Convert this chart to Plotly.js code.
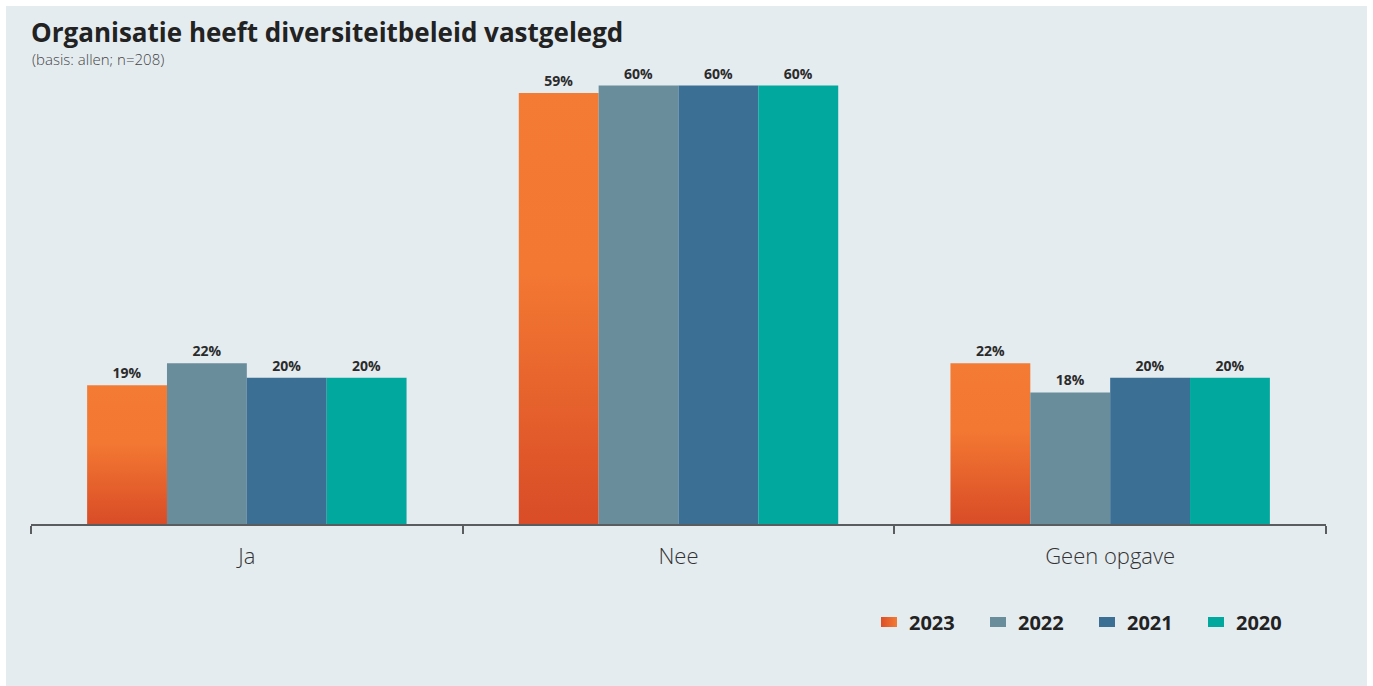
<!DOCTYPE html>
<html>
<head>
<meta charset="utf-8">
<script src="https://cdn.plot.ly/plotly-3.0.1.min.js"></script>
<style>
  html, body { margin: 0; padding: 0; background: #ffffff; }
  #chart { position: absolute; left: 6px; top: 6px; width: 1361px; height: 680px; }
</style>
</head>
<body>
<div id="chart"></div>
<script>
// Answers per category, one series per survey year (percent)
const categories = ['Ja', 'Nee', 'Geen opgave'];
const years = ['2023', '2022', '2021', '2020'];
const values2023 = [19, 59, 22];
const values2022 = [22, 60, 18];
const values2021 = [20, 60, 20];
const values2020 = [20, 60, 20];
const seriesValues = [values2023, values2022, values2021, values2020];
const seriesColors = ['#f37a33', '#6a8d9c', '#3b7094', '#00a89d'];

const FONT = '"Open Sans", Lato, sans-serif';
const labelFont = { family: FONT, size: 14, color: '#2b2b2b', weight: 700 };

const traces = years.map((yr, i) => ({
  type: 'bar',
  name: yr,
  x: categories,
  y: seriesValues[i],
  marker: { color: seriesColors[i], line: { width: 0 } },
  text: seriesValues[i].map(v => v + '%'),
  textposition: 'outside',
  textfont: labelFont,
  cliponaxis: false,
  hoverinfo: 'x+y+name'
}));

const layout = {
  width: 1361,
  height: 680,
  paper_bgcolor: '#e4ecf0',
  plot_bgcolor: '#e4ecf0',
  margin: { l: 25, r: 41, t: 54, b: 162 },
  barmode: 'group',
  bargap: 0.26,
  bargroupgap: 0,
  showlegend: true,
  title: {
    text: '<b>Organisatie heeft diversiteitbeleid vastgelegd</b>',
    font: { family: FONT, size: 26, color: '#222222' },
    x: 25 / 1361, xanchor: 'left', xref: 'container',
    y: 1 - 27 / 680, yanchor: 'middle', yref: 'container'
  },
  annotations: [{
    text: '(basis: allen; n=208)',
    xref: 'paper', yref: 'paper',
    x: 0, xanchor: 'left', xshift: -1,
    y: 1, yanchor: 'middle', yshift: 1,
    showarrow: false,
    font: { family: FONT, size: 15, color: '#444444', weight: 300 }
  }],
  xaxis: {
    type: 'category',
    showline: true, linecolor: '#5a5d60', linewidth: 2,
    ticks: 'outside', tickson: 'boundaries', ticklen: 8, tickwidth: 2, tickcolor: '#5a5d60',
    ticklabelstandoff: 12,
    tickfont: { family: FONT, size: 22, color: '#333333', weight: 300 },
    showgrid: false, zeroline: false, fixedrange: true
  },
  yaxis: {
    range: [0, 63.5],
    visible: false, showgrid: false, zeroline: false, fixedrange: true
  },
  legend: {
    orientation: 'h',
    x: 863 / 1361, xanchor: 'left', xref: 'container',
    y: 1 - 616 / 680, yanchor: 'middle', yref: 'container',
    entrywidth: 64, entrywidthmode: 'pixels',
    itemwidth: 30,
    traceorder: 'normal',
    bgcolor: 'rgba(0,0,0,0)',
    font: { family: FONT, size: 20, color: '#222222', weight: 700 }
  }
};

// Shaded fill for the 2023 bars (orange fading to red at the base)
function applyGradient(gd) {
  const svg = gd.querySelector('.main-svg');
  if (!svg) return;
  let defs = svg.querySelector('defs');
  if (!defs) { defs = document.createElementNS('http://www.w3.org/2000/svg', 'defs'); svg.prepend(defs); }
  if (!defs.querySelector('#bar2023grad')) {
    defs.insertAdjacentHTML('beforeend',
      '<linearGradient id="bar2023grad" x1="0" y1="0" x2="0" y2="1">' +
      '<stop offset="0" stop-color="#f47b33"/><stop offset="0.42" stop-color="#f37832"/>' +
      '<stop offset="1" stop-color="#d94c27"/></linearGradient>' +
      '<linearGradient id="leg2023grad" x1="0" y1="0" x2="1" y2="0">' +
      '<stop offset="0" stop-color="#dc4f28"/><stop offset="1" stop-color="#f47b33"/></linearGradient>');
  }
  const barTraces = gd.querySelectorAll('.barlayer .trace.bars');
  if (barTraces.length) {
    barTraces[0].querySelectorAll('path').forEach(p => { p.style.fill = 'url(#bar2023grad)'; });
  }
  // Legend swatches as small wide rectangles
  const legTraces = gd.querySelectorAll('.legend .traces');
  legTraces.forEach((t, i) => {
    t.querySelectorAll('.legendpoints path').forEach(p => {
      p.setAttribute('d', 'M8,5H-8V-5H8Z');
      if (i === 0) p.style.fill = 'url(#leg2023grad)';
    });
  });
}

const gd = document.getElementById('chart');
Plotly.newPlot(gd, traces, layout, { displayModeBar: false, responsive: false }).then(() => {
  applyGradient(gd);
  gd.on('plotly_afterplot', () => applyGradient(gd));
});
</script>
</body>
</html>
